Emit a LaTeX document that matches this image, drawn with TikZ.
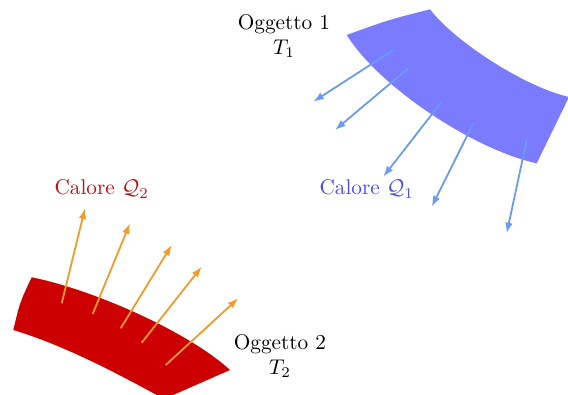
\documentclass[tikz,border=0pt]{standalone}
\usepackage{amsmath,amssymb}
\usepackage{tikz}
\usetikzlibrary{arrows.meta}
\usepackage{xcolor}
\definecolor{coldc}{HTML}{7B7BFF}
\definecolor{coldtextc}{HTML}{4B4BEB}
\definecolor{coldarrc}{HTML}{6A9BEF}
\definecolor{hotc}{HTML}{CC0000}
\definecolor{hottextc}{HTML}{B81414}
\definecolor{hotarrc}{HTML}{F39A2B}

\begin{document}
\begin{tikzpicture}[x=0.47pt, y=-0.47pt]
  \useasboundingbox (0,0) rectangle (568,394);
  \begin{scope}
    \clip (0,0) rectangle (568,394);
    % oggetto 1 (freddo)
    \fill[coldc] (346.7,35) .. controls (380,88) and (475,150) .. (536.7,163.3)
      -- (569,97) .. controls (525,87) and (455,42) .. (430,9.3)
      .. controls (388,20) .. cycle;
    % oggetto 2 (caldo)
    \fill[hotc] (31.7,277.3) .. controls (95,290) and (190,333) .. (230,370)
      -- (164,399) .. controls (115,372) and (63,345) .. (13.3,330)
      .. controls (20,302) .. cycle;
  \end{scope}
  \draw[coldarrc, line width=0.85pt, -{Latex[length=5pt,width=3.6pt]}] (393.3,50) -- (313.3,101.7);
  \draw[coldarrc, line width=0.85pt, -{Latex[length=5pt,width=3.6pt]}] (408.3,68.3) -- (335,130);
  \draw[coldarrc, line width=0.85pt, -{Latex[length=5pt,width=3.6pt]}] (441.7,101.7) -- (383.3,176.7);
  \draw[coldarrc, line width=0.85pt, -{Latex[length=5pt,width=3.6pt]}] (473.3,123.3) -- (431.7,206.7);
  \draw[coldarrc, line width=0.85pt, -{Latex[length=5pt,width=3.6pt]}] (526.7,140) -- (506.7,233.3);
  \draw[hotarrc, line width=0.85pt, -{Latex[length=5pt,width=3.6pt]}] (61.7,303.3) -- (85,208.3);
  \draw[hotarrc, line width=0.85pt, -{Latex[length=5pt,width=3.6pt]}] (92.7,314) -- (130,223.3);
  \draw[hotarrc, line width=0.85pt, -{Latex[length=5pt,width=3.6pt]}] (120.7,328.3) -- (171.7,245);
  \draw[hotarrc, line width=0.85pt, -{Latex[length=5pt,width=3.6pt]}] (141.7,342.7) -- (201.7,266.7);
  \draw[hotarrc, line width=0.85pt, -{Latex[length=5pt,width=3.6pt]}] (165.7,365) -- (238.3,298.3);
  \node[align=center] (obj1) at (284,36) {Oggetto 1\\$T_1$};
  \node[align=center] (obj2) at (280,356) {Oggetto 2\\$T_2$};
  \node[text=coldtextc] (heat1) at (366.7,189) {Calore $\mathcal{Q}_1$};
  \node[text=hottextc] (heat2) at (101.7,189) {Calore $\mathcal{Q}_2$};
\end{tikzpicture}
\end{document}
